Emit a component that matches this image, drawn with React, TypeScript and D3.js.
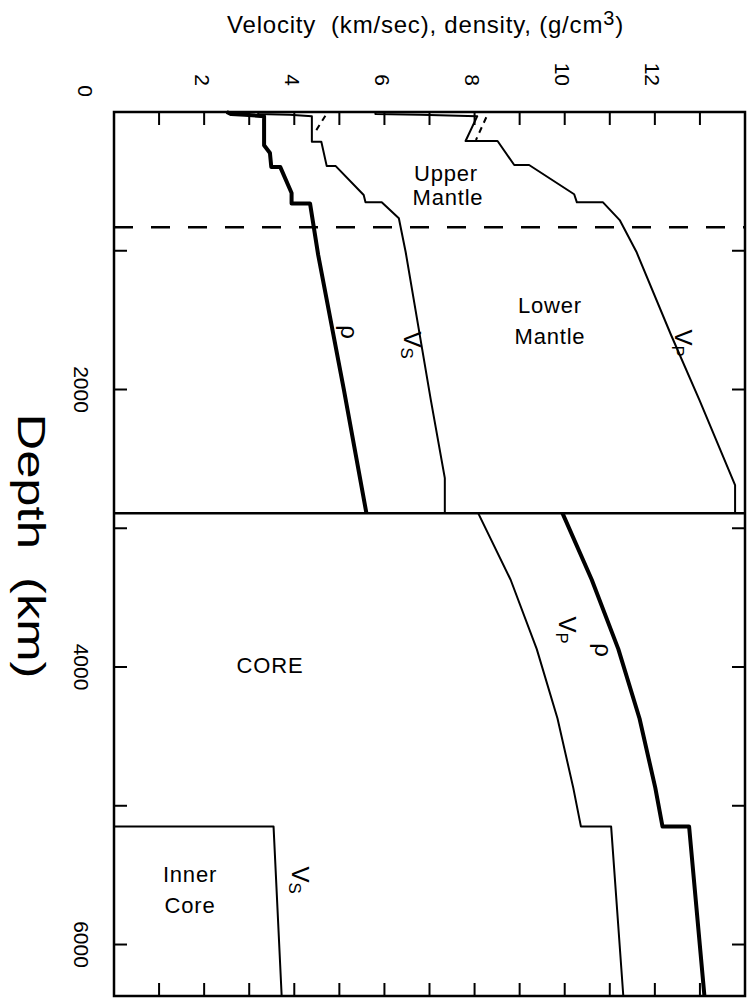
import React from 'react';
import * as d3 from 'd3';

type P = [number, number]; // [depth km, value]

const valueTickLabels = [2, 4, 6, 8, 10, 12];
const valueMinorTicks = [1, 2, 3, 4, 5, 6, 7, 8, 9, 10, 11, 12, 13];
const depthTicks = [1000, 2000, 3000, 4000, 5000, 6000];
const depthTickLabels = [2000, 4000, 6000];

const cmbDepth = 2891;
const dashedDepth = 830;

// mantle
const rhoMantle: P[] = [
  [0, 2.5], [15, 2.6], [20, 2.9], [30, 3.33], [240, 3.33], [296, 3.46], [397, 3.49],
  [397, 3.69], [584, 3.94], [660, 3.94], [660, 4.35], [1030, 4.53], [2000, 5.1], [2891, 5.6],
];
const vsMantle: P[] = [
  [0, 3.2], [15, 3.2], [20, 3.9], [30, 4.39], [214, 4.39], [214, 4.6], [390, 4.72],
  [390, 4.92], [598, 5.54], [650, 5.58], [650, 5.94], [766, 6.32], [1007, 6.47],
  [2076, 7.03], [2639, 7.34], [2891, 7.34],
];
const vpMantle: P[] = [
  [0, 5.8], [15, 5.8], [20, 6.8], [30, 8.06], [209, 7.8], [209, 8.51], [382, 8.88],
  [382, 9.21], [593, 10.21], [651, 10.27], [651, 10.85], [779, 11.22], [1007, 11.59],
  [1600, 12.35], [2076, 12.99], [2689, 13.78], [2891, 13.78],
];
const vsDashed: P[] = [[27, 4.69], [161, 4.43]];
const vpDashed: P[] = [[38, 8.26], [202, 8.03]];

// core
const rhoCore: P[] = [
  [2891, 9.95], [3371, 10.6], [3871, 11.19], [4371, 11.66], [4871, 12.01], [5150, 12.17],
  [5150, 12.76], [6371, 13.1],
];
const vpCore: P[] = [
  [2891, 8.08], [3371, 8.8], [3871, 9.38], [4371, 9.84], [4871, 10.19], [5150, 10.36],
  [5150, 11.03], [6371, 11.3],
];
const vsInnerCore: P[] = [[5150, 0], [5150, 3.54], [6371, 3.72]];

const FONT = "'Liberation Sans', Arial, Helvetica, sans-serif";

function RotLabel({ x, y, main, sub, size = 24 }: { x: number; y: number; main: string; sub?: string; size?: number }) {
  return (
    <text transform={`translate(${x},${y}) rotate(90)`} textAnchor="middle" dominantBaseline="central"
      fontFamily={FONT} fontSize={size} fill="#000">
      {main}
      {sub ? <tspan fontSize={size * 0.7} dy={5}>{sub}</tspan> : null}
    </text>
  );
}

export default function App() {
  const W = 750, H = 1002;
  const left = 114, right = 745, top = 112, bottom = 996;
  const x = d3.scaleLinear().domain([0, 14]).range([left, right]);
  const y = d3.scaleLinear().domain([0, 6371]).range([top, bottom]);
  const line = d3.line<P>().x((d) => x(d[1])).y((d) => y(d[0]));
  const tickLen = 13;

  return (
    <div style={{ position: 'absolute', left: 0, top: 0 }}>
      <svg width={W} height={H} style={{ display: 'block', background: '#fff' }}>
        {/* frame */}
        <rect x={left} y={top} width={right - left} height={bottom - top} fill="none" stroke="#000" strokeWidth={2.5} />
        {/* ticks */}
        {valueMinorTicks.map((v) => (
          <g key={'vt' + v}>
            <line x1={x(v)} x2={x(v)} y1={top} y2={top + tickLen} stroke="#000" strokeWidth={2} />
            <line x1={x(v)} x2={x(v)} y1={bottom} y2={bottom - tickLen} stroke="#000" strokeWidth={2} />
          </g>
        ))}
        {depthTicks.map((d) => (
          <g key={'dt' + d}>
            <line x1={left} x2={left + tickLen} y1={y(d)} y2={y(d)} stroke="#000" strokeWidth={2} />
            <line x1={right} x2={right - tickLen} y1={y(d)} y2={y(d)} stroke="#000" strokeWidth={2} />
          </g>
        ))}
        {/* tick labels */}
        {valueTickLabels.map((v) => (
          <text key={'vl' + v} transform={`translate(${x(v) - 2},86) rotate(90)`} textAnchor="end"
            dominantBaseline="central" fontFamily={FONT} fontSize={21}>{v}</text>
        ))}
        <text transform={`translate(85,97) rotate(90)`} textAnchor="end" dominantBaseline="central"
          fontFamily={FONT} fontSize={21}>0</text>
        {depthTickLabels.map((d) => (
          <text key={'dl' + d} transform={`translate(81,${y(d)}) rotate(90)`} textAnchor="middle"
            dominantBaseline="central" fontFamily={FONT} fontSize={21}>{d}</text>
        ))}
        {/* axis titles */}
        <text x={227} y={33} fontFamily={FONT} fontSize={24} letterSpacing={0.8} style={{ whiteSpace: 'pre' }}>
          {'Velocity  (km/sec), density, (g/cm'}
          <tspan fontSize={20} dy={-8}>3</tspan>
          <tspan dy={8}>)</tspan>
        </text>
        <text transform={`translate(31,546) rotate(90)`} textAnchor="middle" dominantBaseline="central"
          fontFamily={FONT} fontSize={38} textLength={265} lengthAdjust="spacingAndGlyphs"
          style={{ whiteSpace: 'pre' }}>{'Depth  (km)'}</text>

        {/* boundaries */}
        <line x1={left} x2={right} y1={y(cmbDepth)} y2={y(cmbDepth)} stroke="#000" strokeWidth={2.5} />
        <line x1={left} x2={right} y1={y(dashedDepth)} y2={y(dashedDepth)} stroke="#000" strokeWidth={2.5} strokeDasharray="19,18" />

        {/* curves */}
        <path d={line(vsMantle)!} fill="none" stroke="#000" strokeWidth={2} strokeLinejoin="round" />
        <path d={line(vpMantle)!} fill="none" stroke="#000" strokeWidth={2} strokeLinejoin="round" />
        <path d={line(rhoMantle)!} fill="none" stroke="#000" strokeWidth={4} strokeLinejoin="round" />
        <path d={line(vsDashed)!} fill="none" stroke="#000" strokeWidth={2} strokeDasharray="6,5" />
        <path d={line(vpDashed)!} fill="none" stroke="#000" strokeWidth={2} strokeDasharray="6,5" />
        <path d={line(vpCore)!} fill="none" stroke="#000" strokeWidth={2} strokeLinejoin="round" />
        <path d={line(rhoCore)!} fill="none" stroke="#000" strokeWidth={4} strokeLinejoin="round" />
        <path d={line(vsInnerCore)!} fill="none" stroke="#000" strokeWidth={2} strokeLinejoin="round" />

        {/* region labels */}
        <g fontFamily={FONT} fontSize={22} textAnchor="middle" letterSpacing={0.8}>
          <text x={446} y={181}>Upper</text>
          <text x={448} y={205}>Mantle</text>
          <text x={550} y={313}>Lower</text>
          <text x={550} y={344}>Mantle</text>
          <text x={270} y={673}>CORE</text>
          <text x={190} y={882}>Inner</text>
          <text x={190} y={913}>Core</text>
        </g>

        {/* curve labels */}
        <RotLabel x={683} y={343} main="V" sub="P" />
        <RotLabel x={412} y={345} main="V" sub="S" />
        <RotLabel x={349} y={332} main="ρ" />
        <RotLabel x={567} y={630} main="V" sub="P" />
        <RotLabel x={603} y={650} main="ρ" />
        <RotLabel x={300} y={880} main="V" sub="S" />
      </svg>
    </div>
  );
}
